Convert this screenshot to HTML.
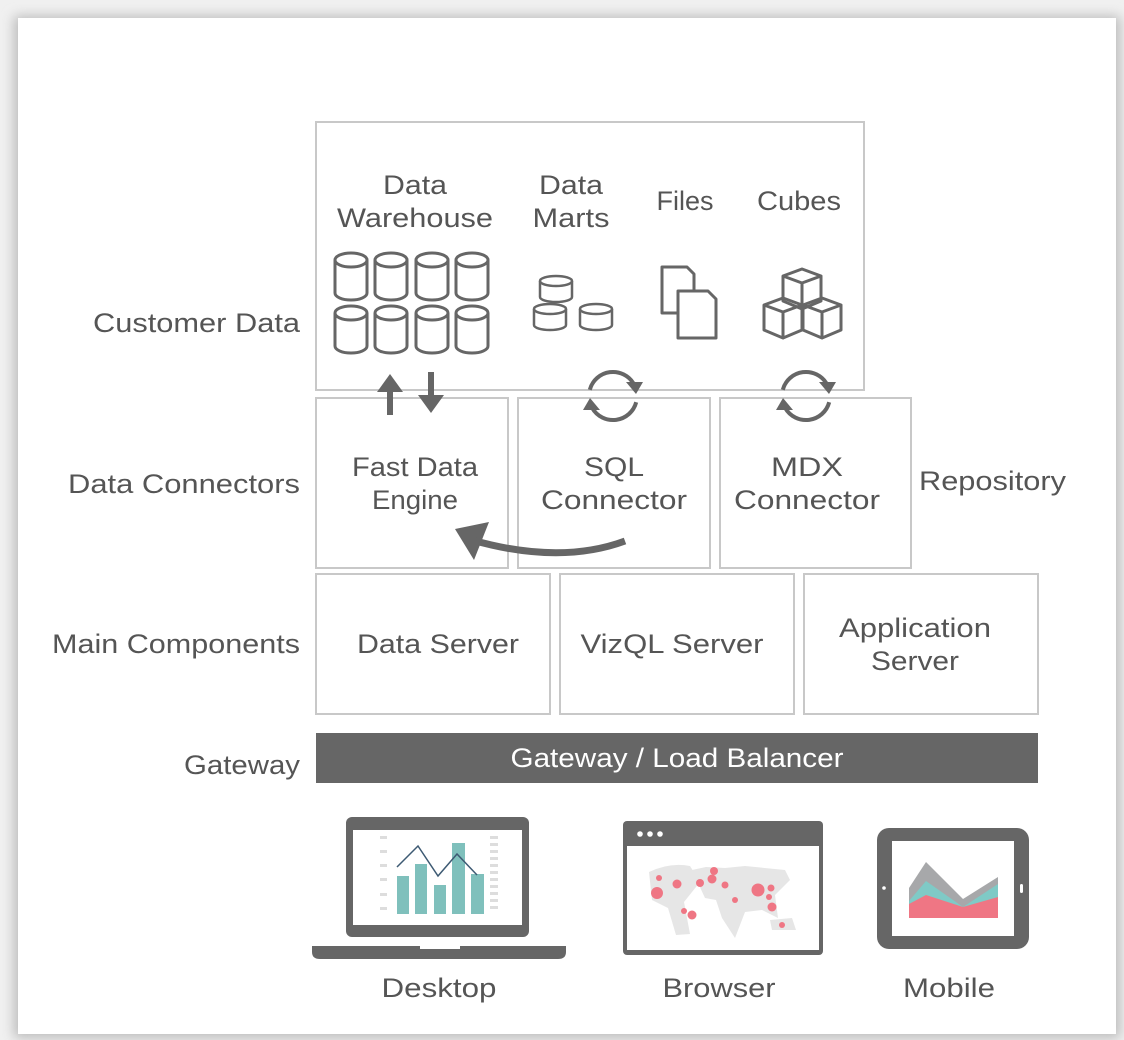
<!DOCTYPE html>
<html><head><meta charset="utf-8"><style>
html,body{margin:0;padding:0;background:#f0f0f0;}
svg{display:block}
text{font-family:"Liberation Sans",sans-serif;fill:#555;font-size:27px}
</style></head><body>
<svg width="1124" height="1040" viewBox="0 0 1124 1040">
<defs>
<filter id="sh" x="-5%" y="-5%" width="110%" height="110%"><feGaussianBlur stdDeviation="6"/></filter>
<g id="cyl" fill="none" stroke="#666" stroke-width="3">
<ellipse cx="0" cy="7" rx="16" ry="7"/>
<path d="M-16 7 V40 A16 7 0 0 0 16 40 V7"/>
</g>
<g id="scyl" fill="none" stroke="#666" stroke-width="2.5">
<ellipse cx="0" cy="5" rx="16" ry="5"/>
<path d="M-16 5 V21 A16 5 0 0 0 16 21 V5"/>
</g>
<g id="cube" fill="none" stroke="#666" stroke-width="3" stroke-linejoin="round">
<path d="M0 0 L19 -7 L38 0 L19 7 Z M0 0 V25 L19 33 V7 M38 0 V25 L19 33"/>
</g>
<g id="sync">
<path d="M-23.2 -6.2 A24 24 0 0 1 20.8 -12" fill="none" stroke="#666" stroke-width="4"/>
<path d="M23.2 6.2 A24 24 0 0 1 -20.8 12" fill="none" stroke="#666" stroke-width="4"/>
<path d="M13 -14 L30 -14 L23 -2 Z" fill="#666"/>
<path d="M-30 14 L-13 14 L-23 2 Z" fill="#666"/>
</g>
</defs>
<rect x="14" y="16" width="1106" height="1022" fill="#bbb" filter="url(#sh)"/>
<rect x="18" y="18" width="1098" height="1016" fill="#fff"/>

<g fill="none" stroke="#c8c8c8" stroke-width="2">
<rect x="316" y="122" width="548" height="268"/>
<rect x="316" y="398" width="192" height="170"/>
<rect x="518" y="398" width="192" height="170"/>
<rect x="720" y="398" width="191" height="170"/>
<rect x="316" y="574" width="234" height="140"/>
<rect x="560" y="574" width="234" height="140"/>
<rect x="804" y="574" width="234" height="140"/>
</g>
<rect x="316" y="733" width="722" height="50" fill="#666"/>

<g lengthAdjust="spacingAndGlyphs">
<text x="93" y="332" textLength="207" lengthAdjust="spacingAndGlyphs">Customer Data</text>
<text x="68" y="493" textLength="232" lengthAdjust="spacingAndGlyphs">Data Connectors</text>
<text x="52" y="653" textLength="248" lengthAdjust="spacingAndGlyphs">Main Components</text>
<text x="184" y="774" textLength="116" lengthAdjust="spacingAndGlyphs">Gateway</text>
<text x="919" y="490" textLength="147" lengthAdjust="spacingAndGlyphs">Repository</text>
</g>

<g text-anchor="middle">
<text x="415" y="194" textLength="64" lengthAdjust="spacingAndGlyphs">Data</text>
<text x="415" y="227" textLength="156" lengthAdjust="spacingAndGlyphs">Warehouse</text>
<text x="571" y="194" textLength="64" lengthAdjust="spacingAndGlyphs">Data</text>
<text x="571" y="227" textLength="77" lengthAdjust="spacingAndGlyphs">Marts</text>
<text x="685" y="210" textLength="57" lengthAdjust="spacingAndGlyphs">Files</text>
<text x="799" y="210" textLength="84" lengthAdjust="spacingAndGlyphs">Cubes</text>
<text x="415" y="476" textLength="126" lengthAdjust="spacingAndGlyphs">Fast Data</text>
<text x="415" y="509" textLength="86" lengthAdjust="spacingAndGlyphs">Engine</text>
<text x="614" y="476" textLength="60" lengthAdjust="spacingAndGlyphs">SQL</text>
<text x="614" y="509" textLength="146" lengthAdjust="spacingAndGlyphs">Connector</text>
<text x="807" y="476" textLength="72" lengthAdjust="spacingAndGlyphs">MDX</text>
<text x="807" y="509" textLength="146" lengthAdjust="spacingAndGlyphs">Connector</text>
<text x="438" y="653" textLength="162" lengthAdjust="spacingAndGlyphs">Data Server</text>
<text x="672" y="653" textLength="183" lengthAdjust="spacingAndGlyphs">VizQL Server</text>
<text x="915" y="637" textLength="152" lengthAdjust="spacingAndGlyphs">Application</text>
<text x="915" y="670" textLength="88" lengthAdjust="spacingAndGlyphs">Server</text>
<text x="677" y="767" style="fill:#fff" textLength="333" lengthAdjust="spacingAndGlyphs">Gateway / Load Balancer</text>
<text x="439" y="997" textLength="115" lengthAdjust="spacingAndGlyphs">Desktop</text>
<text x="719" y="997" textLength="113" lengthAdjust="spacingAndGlyphs">Browser</text>
<text x="949" y="997" textLength="92" lengthAdjust="spacingAndGlyphs">Mobile</text>
</g>

<use href="#cyl" x="351" y="253"/><use href="#cyl" x="391" y="253"/><use href="#cyl" x="432" y="253"/><use href="#cyl" x="472" y="253"/>
<use href="#cyl" x="351" y="306"/><use href="#cyl" x="391" y="306"/><use href="#cyl" x="432" y="306"/><use href="#cyl" x="472" y="306"/>
<use href="#scyl" x="556" y="276"/><use href="#scyl" x="550" y="304"/><use href="#scyl" x="596" y="304"/>
<g fill="#fff" stroke="#666" stroke-width="3" stroke-linejoin="round">
<path d="M662 267 H687 L694 274 V313 H662 Z"/>
<path d="M678 291 H708 L716 299 V338 H678 Z"/>
</g>
<use href="#cube" x="783" y="276"/>
<use href="#cube" x="764" y="305"/>
<use href="#cube" x="803" y="305"/>
<use href="#sync" x="613" y="396"/>
<use href="#sync" x="806" y="396"/>
<g fill="#666">
<rect x="387" y="390" width="6" height="25"/><path d="M377 392 L390 374 L403 392 Z"/>
<rect x="428" y="372" width="6" height="25"/><path d="M418 395 L431 413 L444 395 Z"/>
<path d="M455 529 L489 522 L474 560 Z"/>
</g>
<path d="M625 541 Q560 565 472 540" fill="none" stroke="#666" stroke-width="7"/>

<!-- laptop -->
<rect x="346" y="817" width="183" height="120" rx="6" fill="#666"/>
<rect x="353" y="830" width="169" height="95" fill="#fff"/>
<path d="M312 946 H420 V949 H460 V946 H566 V952 Q566 959 558 959 H320 Q312 959 312 952 Z" fill="#666"/>
<g fill="#7fc0bc">
<rect x="397" y="876" width="12" height="38"/>
<rect x="415" y="864" width="12" height="50"/>
<rect x="434" y="885" width="12" height="29"/>
<rect x="452" y="843" width="13" height="71"/>
<rect x="471" y="874" width="13" height="40"/>
</g>
<polyline points="397,867 418,846 438,876 457,854 477,875" fill="none" stroke="#3d5a73" stroke-width="1.5"/>
<g fill="#ddd">
<rect x="380" y="836" width="7" height="3"/><rect x="380" y="850" width="7" height="3"/><rect x="380" y="864" width="7" height="3"/><rect x="380" y="878" width="7" height="3"/><rect x="380" y="893" width="7" height="3"/><rect x="380" y="907" width="7" height="3"/>
<rect x="490" y="836" width="8" height="3"/><rect x="490" y="843" width="8" height="3"/><rect x="490" y="850" width="8" height="3"/><rect x="490" y="857" width="8" height="3"/><rect x="490" y="864" width="8" height="3"/><rect x="490" y="871" width="8" height="3"/><rect x="490" y="878" width="8" height="3"/><rect x="490" y="885" width="8" height="3"/><rect x="490" y="892" width="8" height="3"/><rect x="490" y="899" width="8" height="3"/><rect x="490" y="906" width="8" height="3"/>
</g>
<!-- browser -->
<rect x="623" y="821" width="200" height="134" rx="4" fill="#666"/>
<rect x="627" y="846" width="192" height="104" fill="#fff"/>
<circle cx="640" cy="834" r="2.8" fill="#fff"/><circle cx="650" cy="834" r="2.8" fill="#fff"/><circle cx="660" cy="834" r="2.8" fill="#fff"/>
<g fill="#e6e6e6">
<path d="M649 872 Q670 862 690 866 L700 882 L684 902 L690 934 L676 935 L668 908 L652 900 Z"/>
<path d="M692 870 L706 867 L725 868 L745 866 L785 870 L790 880 L775 895 L778 918 L762 910 L745 912 L735 938 L722 918 L716 900 L705 898 Z"/>
<path d="M770 920 L792 918 L796 930 L772 930 Z"/>
</g>
<g fill="#ef7684">
<circle cx="657" cy="893" r="6"/><circle cx="659" cy="878" r="3"/><circle cx="677" cy="884" r="4.5"/>
<circle cx="714" cy="871" r="4"/><circle cx="712" cy="879" r="4.5"/><circle cx="725" cy="885" r="3.5"/>
<circle cx="758" cy="890" r="6.5"/><circle cx="771" cy="888" r="3.5"/><circle cx="769" cy="897" r="3"/>
<circle cx="735" cy="900" r="3"/><circle cx="772" cy="907" r="4.5"/><circle cx="684" cy="911" r="3"/><circle cx="692" cy="915" r="4.5"/>
<circle cx="782" cy="925" r="3"/><circle cx="700" cy="883" r="4"/>
</g>
<!-- tablet -->
<rect x="877" y="828" width="152" height="121" rx="12" fill="#666"/>
<rect x="892" y="841" width="122" height="95" fill="#fff"/>
<circle cx="884" cy="888" r="1.8" fill="#fff"/>
<rect x="1020" y="884" width="3" height="9" rx="1.5" fill="#fff"/>
<path d="M909 888 L926 862 L963 899 L998 877 L998 918 L909 918 Z" fill="#a7a8aa"/>
<path d="M909 901 L926 881 L963 907 L998 884 L998 918 L909 918 Z" fill="#7fcac6"/>
<path d="M909 904 L926 895 L963 907 L998 897 L998 918 L909 918 Z" fill="#ef7684"/>
</svg>
</body></html>
